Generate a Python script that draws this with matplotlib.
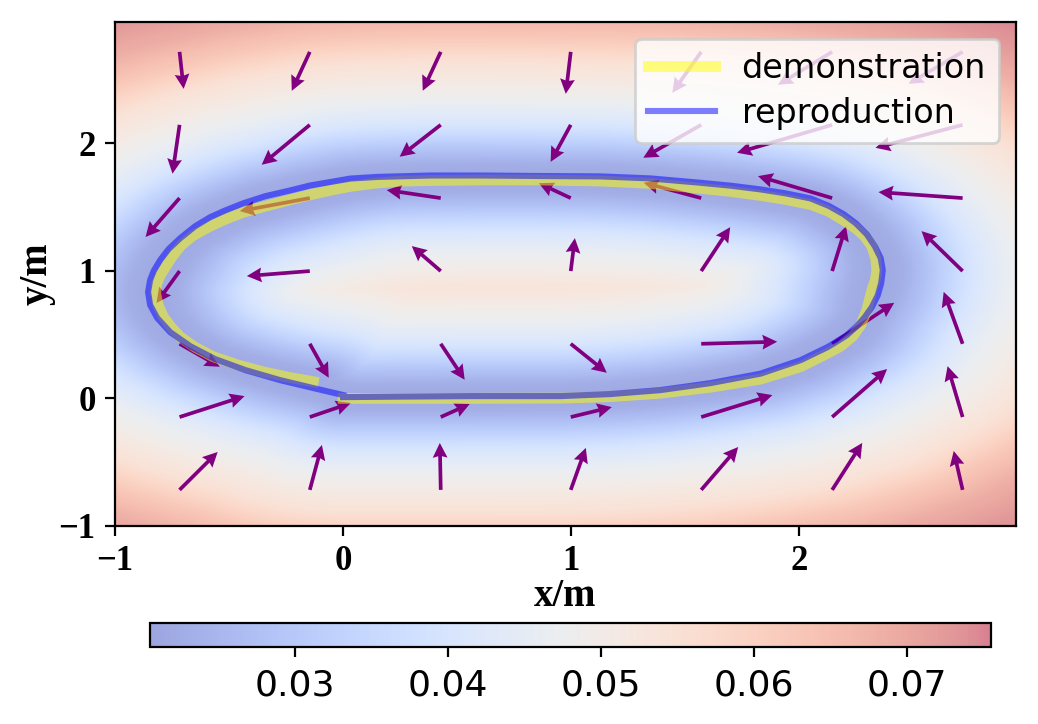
"""Learned vector field with demonstration / reproduction loop."""
import numpy as np
import matplotlib
matplotlib.use('Agg')
import matplotlib.pyplot as plt

# demonstration trajectory
DEMO_X = [0.0, 0.47, 0.953, 1.172, 1.391, 1.611, 1.83, 2.006, 2.124, 2.181, 2.234,
          2.269, 2.296, 2.318, 2.333, 2.34, 2.335, 2.318, 2.287, 2.248, 2.195, 2.129,
          2.05, 1.94, 1.83, 1.7, 1.567, 1.348, 1.128, 0.865, 0.602, 0.383, 0.251,
          0.15, 0.032, -0.056, -0.144, -0.232, -0.341, -0.438, -0.517, -0.583, -0.662,
          -0.71, -0.749, -0.802, -0.818, -0.822, -0.811, -0.788, -0.755, -0.714,
          -0.649, -0.569, -0.46, -0.35, -0.232, -0.131]
DEMO_Y = [0.0, 0.0, 0.002, 0.014, 0.041, 0.088, 0.151, 0.249, 0.354, 0.409, 0.488,
          0.574, 0.691, 0.847, 0.926, 1.004, 1.098, 1.192, 1.27, 1.333, 1.395, 1.466,
          1.52, 1.559, 1.591, 1.622, 1.646, 1.685, 1.704, 1.712, 1.712, 1.708, 1.703,
          1.689, 1.662, 1.631, 1.596, 1.557, 1.506, 1.459, 1.404, 1.35, 1.272,
          1.2, 1.114, 0.965, 0.895, 0.824, 0.73, 0.639, 0.56, 0.482,
          0.401, 0.326, 0.261, 0.208, 0.163, 0.131]

# reproduced trajectory
REPRO_X = [0.0, 0.251, 0.558, 0.953, 1.172, 1.391, 1.611, 1.83, 2.006, 2.124, 2.16,
           2.208, 2.252, 2.287, 2.318, 2.344, 2.359, 2.366, 2.357, 2.331, 2.296, 2.248,
           2.195, 2.129, 2.05, 1.94, 1.83, 1.7, 1.567, 1.348, 1.128, 0.865, 0.602,
           0.383, 0.15, 0.032, -0.144, -0.232, -0.341, -0.438, -0.517, -0.583, -0.649,
           -0.714, -0.765, -0.802, -0.83, -0.846, -0.855, -0.846, -0.815, -0.758,
           -0.67, -0.561, -0.429, -0.276, -0.131, 0.001]
REPRO_Y = [0.01, 0.014, 0.018, 0.018, 0.034, 0.065, 0.12, 0.194, 0.3, 0.402, 0.441,
           0.495, 0.566, 0.637, 0.715, 0.808, 0.904, 1.005, 1.099, 1.193, 1.286, 1.372,
           1.443, 1.509, 1.567, 1.607, 1.638, 1.667, 1.69, 1.724, 1.74, 1.743, 1.747,
           1.747, 1.736, 1.723, 1.669, 1.63, 1.585, 1.529, 1.473, 1.42, 1.349,
           1.256, 1.17, 1.084, 1.0, 0.928, 0.834, 0.732, 0.63, 0.519,
           0.409, 0.308, 0.222, 0.143, 0.081, 0.026]

# quiver grid (same for x and y) and vectors, rows from bottom to top
QUIVER_GRID = [-0.717, -0.146, 0.428, 0.998, 1.57, 2.144, 2.716]
QUIVER_U = [
    [0.167, 0.053, -0.004, 0.066, 0.162, 0.132, -0.039],
    [0.285, 0.180, 0.127, 0.180, 0.312, 0.241, -0.066],
    [0.176, 0.083, 0.105, 0.158, 0.333, 0.272, -0.083],
    [-0.101, -0.276, -0.127, 0.018, 0.127, 0.061, -0.180],
    [-0.149, -0.307, -0.237, -0.140, -0.252, -0.325, -0.369],
    [-0.031, -0.211, -0.180, -0.088, -0.254, -0.417, -0.382],
    [0.018, -0.079, -0.079, -0.022, -0.127, -0.237, -0.237],
]
QUIVER_V = [
    [0.297, 0.352, 0.368, 0.329, 0.336, 0.368, 0.305],
    [0.164, 0.110, 0.102, 0.078, 0.172, 0.376, 0.399],
    [-0.180, -0.266, -0.282, -0.227, 0.016, 0.321, 0.407],
    [-0.250, -0.039, 0.196, 0.258, 0.344, 0.352, 0.313],
    [-0.305, -0.102, 0.063, 0.117, 0.120, 0.172, 0.047],
    [-0.383, -0.313, -0.250, -0.290, -0.258, -0.219, -0.180],
    [-0.290, -0.305, -0.305, -0.329, -0.321, -0.258, -0.250],
]

# background value vs distance from the trajectory
PROFILE_D = [0.0, 0.1, 0.2, 0.3, 0.4, 0.55, 0.7, 0.9, 1.1, 1.3, 1.5, 1.7, 3.0]
PROFILE_F = [0.0212, 0.023, 0.028, 0.034, 0.040, 0.046, 0.050, 0.055, 0.063, 0.069,
             0.073, 0.0755, 0.0755]
VMIN, VMAX = 0.0205, 0.0755
XLIM = (-1.0, 2.95)
YLIM = (-1.0, 2.95)


def dist_to_path(px, py, xs, ys):
    xs = np.asarray(xs); ys = np.asarray(ys)
    ax_, ay_ = xs[:-1], ys[:-1]
    bx, by = xs[1:], ys[1:]
    dx, dy = bx - ax_, by - ay_
    l2 = dx**2 + dy**2
    P = px[..., None]; Q = py[..., None]
    t = np.clip(((P - ax_) * dx + (Q - ay_) * dy) / l2, 0, 1)
    cx = ax_ + t * dx; cy = ay_ + t * dy
    return np.sqrt((P - cx)**2 + (Q - cy)**2).min(axis=-1)


gx = np.linspace(XLIM[0], XLIM[1], 260)
gy = np.linspace(YLIM[0], YLIM[1], 260)
GX, GY = np.meshgrid(gx, gy)
d = np.minimum(dist_to_path(GX, GY, REPRO_X, REPRO_Y), dist_to_path(GX, GY, DEMO_X, DEMO_Y))
field = np.interp(d, PROFILE_D, PROFILE_F)

serif = ['Liberation Serif', 'DejaVu Serif']

fig = plt.figure(figsize=(5.19, 3.62), dpi=200)
ax = fig.add_axes([0.1108, 0.2735, 0.868, 0.6961])
im = ax.imshow(field, extent=[XLIM[0], XLIM[1], YLIM[0], YLIM[1]], origin='lower',
               cmap='coolwarm', alpha=0.5, vmin=VMIN, vmax=VMAX, aspect='auto',
               interpolation='bilinear')

QX, QY = np.meshgrid(QUIVER_GRID, QUIVER_GRID)
ax.quiver(QX, QY, np.array(QUIVER_U), np.array(QUIVER_V), color='purple',
          angles='xy', scale_units='xy', scale=1, width=0.0041,
          headwidth=4.0, headlength=4.0, headaxislength=3.6)

ax.plot(DEMO_X, DEMO_Y, color='yellow', lw=3.9, alpha=0.5, label='demonstration',
        solid_joinstyle='round')
ax.plot(REPRO_X, REPRO_Y, color='blue', lw=2.2, alpha=0.5, label='reproduction',
        solid_joinstyle='round')

ax.set_xlim(*XLIM); ax.set_ylim(*YLIM)
ax.set_xticks([-1, 0, 1, 2]); ax.set_yticks([-1, 0, 1, 2])
ax.tick_params(labelsize=12.5, labelfontfamily='Liberation Serif')
for lab in ax.get_xticklabels() + ax.get_yticklabels():
    lab.set_fontweight('bold')
ax.set_xlabel('x/m', fontfamily=serif, fontweight='bold', fontsize=14)
ax.set_ylabel('y/m', fontfamily=serif, fontweight='bold', fontsize=14)
ax.xaxis.set_label_coords(0.5, -0.103)
ax.yaxis.set_label_coords(-0.066, 0.5)
ax.legend(loc='upper right', fontsize=12, labelspacing=0.35)

cax = fig.add_axes([0.1445, 0.1068, 0.8102, 0.0323])
cb = fig.colorbar(im, cax=cax, orientation='horizontal')
cb.set_ticks([0.03, 0.04, 0.05, 0.06, 0.07])
cb.ax.tick_params(labelsize=13, pad=4.5)

fig.savefig('out.png', dpi=200)
